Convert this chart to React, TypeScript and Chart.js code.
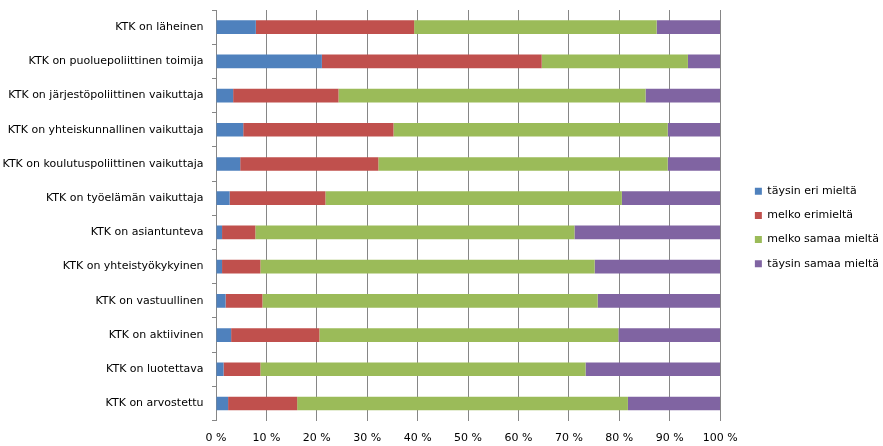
import { useEffect, useRef } from 'react';
import { Chart, registerables } from 'chart.js';
Chart.register(...registerables);

const categories = [
  'KTK on läheinen',
  'KTK on puoluepoliittinen toimija',
  'KTK on järjestöpoliittinen vaikuttaja',
  'KTK on yhteiskunnallinen vaikuttaja',
  'KTK on koulutuspoliittinen vaikuttaja',
  'KTK on työelämän vaikuttaja',
  'KTK on asiantunteva',
  'KTK on yhteistyökykyinen',
  'KTK on vastuullinen',
  'KTK on aktiivinen',
  'KTK on luotettava',
  'KTK on arvostettu',
];
const seriesNames = ['täysin eri mieltä', 'melko erimieltä', 'melko samaa mieltä', 'täysin samaa mieltä'];
const taysinEri = [7.9, 21.0, 3.4, 5.4, 4.8, 2.7, 1.2, 1.2, 1.9, 3.0, 1.5, 2.4];
const melkoEri = [31.4, 43.6, 20.9, 29.8, 27.4, 19.0, 6.6, 7.6, 7.3, 17.5, 7.3, 13.7];
const melkoSamaa = [48.1, 29.0, 60.9, 54.4, 57.4, 58.8, 63.3, 66.3, 66.5, 59.3, 64.5, 65.6];
const taysinSamaa = [12.6, 6.4, 14.8, 10.4, 10.4, 19.5, 28.9, 24.9, 24.3, 20.2, 26.7, 18.3];
const xTickLabels = ['0 %', '10 %', '20 %', '30 %', '40 %', '50 %', '60 %', '70 %', '80 %', '90 %', '100 %'];
const colors = ['#4F81BD', '#C0504D', '#9BBB59', '#8064A2'];

const FONT = '"DejaVu Sans", sans-serif';
const GRID = '#868686';

export default function App() {
  const ref = useRef<HTMLCanvasElement | null>(null);
  useEffect(() => {
    if (!ref.current) return;
    const values = [taysinEri, melkoEri, melkoSamaa, taysinSamaa];
    const chart = new Chart(ref.current, {
      type: 'bar',
      data: {
        labels: categories,
        datasets: values.map((v, i) => ({
          label: seriesNames[i],
          data: v,
          backgroundColor: colors[i],
          borderWidth: 0,
          barPercentage: 0.4,
          categoryPercentage: 1,
        })),
      },
      options: {
        indexAxis: 'y',
        responsive: false,
        animation: false,
        layout: { padding: { left: 0, top: 10, right: -6, bottom: 1 } },
        plugins: {
          tooltip: { enabled: false },
          legend: {
            position: 'right',
            labels: {
              font: { family: FONT, size: 11 },
              color: '#000',
              boxWidth: 7,
              boxHeight: 7,
              padding: 13.2,
            },
          },
        },
        scales: {
          x: {
            type: 'linear',
            stacked: true,
            min: 0,
            max: 100,
            ticks: {
              stepSize: 10,
              padding: 11,
              color: '#000',
              font: { family: FONT, size: 11 },
              callback: (_v: any, i: number) => xTickLabels[i],
            },
            grid: { color: GRID, drawTicks: false },
            border: { display: false },
            afterFit: (s: any) => { s.height = 24.4; },
          },
          y: {
            type: 'category',
            stacked: true,
            ticks: {
              padding: 8.5,
              color: '#000',
              font: { family: FONT, size: 11 },
            },
            grid: { drawOnChartArea: false, drawTicks: true, tickLength: 4, color: GRID },
            border: { display: true, color: GRID },
            afterFit: (s: any) => { s.width = 216; s.paddingTop = 0; s.paddingBottom = 0; },
          },
          y2: {
            type: 'category',
            position: 'right',
            labels: categories,
            display: true,
            ticks: { display: false },
            grid: { display: false, drawTicks: false },
            border: { display: false },
            afterFit: (s: any) => { s.width = 21.5; s.paddingTop = 0; s.paddingBottom = 0; },
          },
        },
      },
    } as any);
    return () => chart.destroy();
  }, []);
  return (
    <div style={{ position: 'absolute', left: 0, top: 0, width: 883, height: 446 }}>
      <canvas ref={ref} width={883} height={446} style={{ display: 'block' }} />
    </div>
  );
}
